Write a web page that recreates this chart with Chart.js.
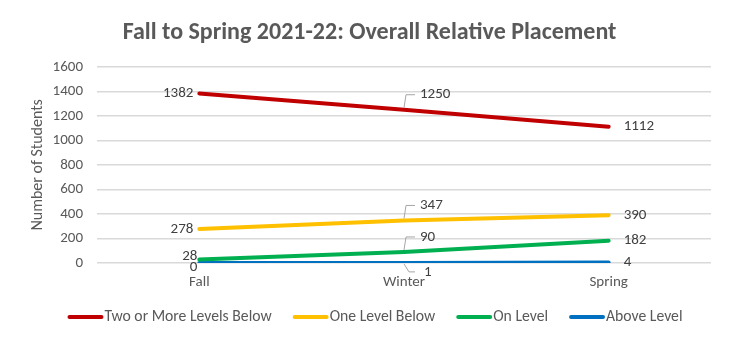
<!DOCTYPE html>
<html lang="en">
<head>
  <meta charset="UTF-8" />
  <title>Fall to Spring 2021-22: Overall Relative Placement</title>
  <script src="https://cdn.jsdelivr.net/npm/chart.js"></script>
  <style>
    html, body { margin: 0; padding: 0; background: #fff; }
    #wrap { width: 750px; height: 362px; }
  </style>
</head>
<body>
  <div id="wrap"><canvas id="placementChart" width="750" height="362"></canvas></div>

  <script>
    // data
    const terms = ["Fall", "Winter", "Spring"];
    const twoOrMoreBelow = [1382, 1250, 1112];
    const oneBelow = [278, 347, 390];
    const onLevel = [28, 90, 182];
    const aboveLevel = [0, 1, 4];
    const yTicks = [0, 200, 400, 600, 800, 1000, 1200, 1400, 1600];

    const FONT = "Carlito, Lato, 'Liberation Sans', sans-serif";
    const GREY = "#595959";

    // value labels: left of Fall, leader callout at Winter, right of Spring
    const valueLabels = {
      id: "valueLabels",
      afterDatasetsDraw(chart) {
        const ctx = chart.ctx;
        ctx.save();
        ctx.font = "15px " + FONT;
        ctx.fillStyle = "#404040";
        ctx.textBaseline = "middle";
        chart.data.datasets.forEach((ds, di) => {
          const meta = chart.getDatasetMeta(di);
          meta.data.forEach((pt, i) => {
            const v = String(ds.data[i]);
            if (i === 0) {
              ctx.textAlign = "right";
              let dx = -6, dy = 0;
              if (di === 2) { dx = -2; dy = -3; }
              if (di === 3) { dx = -2; dy = 4; }
              ctx.fillText(v, pt.x + dx, pt.y + dy);
            } else if (i === 1) {
              const up = di < 3;
              const ty = up ? pt.y - 15 : pt.y + 9;
              ctx.strokeStyle = "#a6a6a6";
              ctx.lineWidth = 1;
              ctx.beginPath();
              ctx.moveTo(pt.x, pt.y + (up ? -2 : 1));
              ctx.lineTo(pt.x + (up ? 2 : 5), ty);
              ctx.lineTo(pt.x + 11, ty);
              ctx.stroke();
              ctx.textAlign = "left";
              ctx.fillText(v, pt.x + (up ? 16 : 20), ty);
            } else {
              ctx.textAlign = "left";
              ctx.fillText(v, pt.x + 15, pt.y);
            }
          });
        });
        ctx.restore();
      }
    };

    // legend with the line sample right against its text, like the source
    const lineLegend = {
      id: "lineLegend",
      afterDraw(chart) {
        const ctx = chart.ctx;
        ctx.save();
        ctx.font = "15.7px " + FONT;
        ctx.textBaseline = "middle";
        const items = chart.data.datasets.map(ds => ({
          text: ds.label, color: ds.borderColor,
          w: 37 + ctx.measureText(ds.label).width
        }));
        const gap = 21;
        const total = items.reduce((s, it) => s + it.w, 0) + gap * (items.length - 1);
        let x = (chart.width - total) / 2;
        const y = 317;
        items.forEach(it => {
          ctx.strokeStyle = it.color;
          ctx.lineWidth = 4;
          ctx.lineCap = "round";
          ctx.beginPath();
          ctx.moveTo(x + 2, y);
          ctx.lineTo(x + 34, y);
          ctx.stroke();
          ctx.fillStyle = GREY;
          ctx.textAlign = "left";
          ctx.fillText(it.text, x + 37, y);
          x += it.w + gap;
        });
        ctx.restore();
      }
    };

    const ds = (label, data, color) => ({
      label, data,
      borderColor: color,
      backgroundColor: color,
      borderWidth: 4,
      pointRadius: 0,
      tension: 0,
      borderCapStyle: "round"
    });

    new Chart(document.getElementById("placementChart"), {
      type: "line",
      data: {
        labels: terms,
        datasets: [
          ds("Two or More Levels Below", twoOrMoreBelow, "#c00000"),
          ds("One Level Below", oneBelow, "#ffc000"),
          ds("On Level", onLevel, "#00b050"),
          ds("Above Level", aboveLevel, "#0070c0")
        ]
      },
      options: {
        responsive: false,
        animation: false,
        layout: { padding: { left: 28, right: 39, top: 0, bottom: 69 } },
        scales: {
          x: {
            offset: true,
            grid: { display: false, drawTicks: false },
            border: { display: false },
            ticks: { color: GREY, font: { family: FONT, size: 15 }, padding: 10 },
            afterFit: axis => { axis.height = 30; }
          },
          y: {
            min: 0,
            max: 1600,
            afterBuildTicks: axis => { axis.ticks = yTicks.map(v => ({ value: v })); },
            afterFit: axis => { axis.width = 69; },
            grid: { color: "#d9d9d9", lineWidth: 1.5, drawTicks: false },
            border: { display: false },
            ticks: {
              color: GREY,
              font: { family: FONT, size: 15 },
              padding: 14,
              callback: v => String(v)
            },
            title: {
              display: true,
              text: "Number of Students",
              color: GREY,
              font: { family: FONT, size: 16 },
              padding: { top: 0, bottom: 5 }
            }
          }
        },
        plugins: {
          legend: { display: false },
          tooltip: { enabled: false },
          title: {
            display: true,
            text: "Fall to Spring 2021-22: Overall Relative Placement",
            color: GREY,
            font: { family: FONT, size: 24, weight: "bold" },
            padding: { top: 19, bottom: 19 }
          }
        }
      },
      plugins: [valueLabels, lineLegend]
    });
  </script>
</body>
</html>
